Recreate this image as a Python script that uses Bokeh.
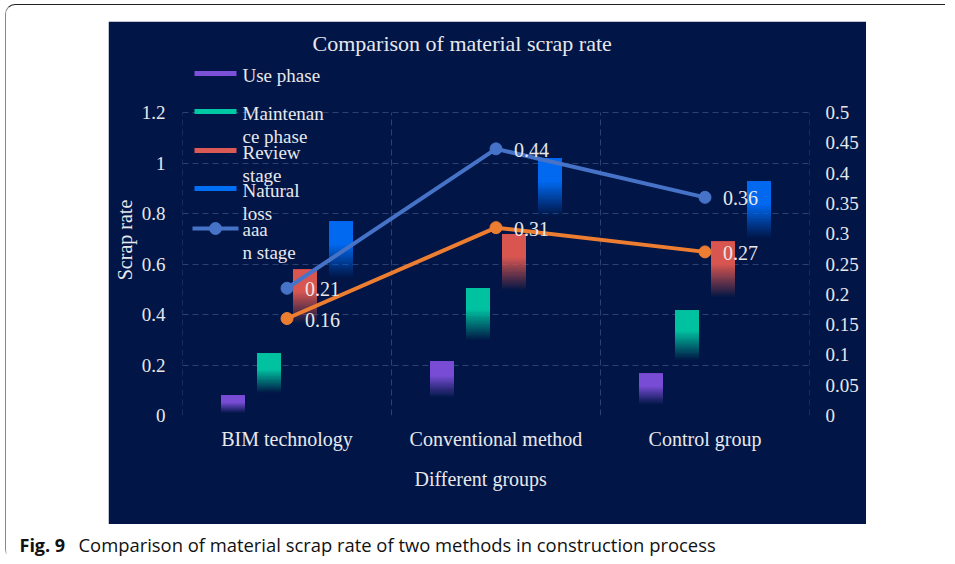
import math
from bokeh.plotting import figure
from bokeh.models import Range1d, LinearAxis, FixedTicker, ColumnDataSource, Spacer, Title
from bokeh.layouts import column, row
from bokeh.core.properties import value
from bokeh.embed import file_html
from bokeh.resources import INLINE

# ---------------- data ----------------
groups = ["BIM technology", "Conventional method", "Control group"]
bar_series = ["Use phase", "Maintenance phase", "Review stage", "Natural loss"]
use_phase = [0.08, 0.215, 0.165]
maintenance_phase = [0.245, 0.505, 0.415]
review_stage = [0.577, 0.717, 0.688]
natural_loss = [0.768, 1.018, 0.928]
line_blue = [0.21, 0.44, 0.36]      # legend "aaa n stage", right axis
line_orange = [0.16, 0.31, 0.27]    # right axis
legend_labels = [["Use phase"], ["Maintenan", "ce phase"], ["Review", "stage"],
                 ["Natural", "loss"], ["aaa", "n stage"]]
left_ticks = [0, 0.2, 0.4, 0.6, 0.8, 1, 1.2]
left_tick_labels = ["0", "0.2", "0.4", "0.6", "0.8", "1", "1.2"]
right_ticks = [0, 0.05, 0.1, 0.15, 0.2, 0.25, 0.3, 0.35, 0.4, 0.45, 0.5]
right_tick_labels = ["0", "0.05", "0.1", "0.15", "0.2", "0.25", "0.3", "0.35", "0.4", "0.45", "0.5"]
title_text = "Comparison of material scrap rate"
x_label = "Different groups"
y_label = "Scrap rate"
caption_bold = "Fig. 9"
caption_text = "Comparison of material scrap rate of two methods in construction process"

# ---------------- style ----------------
NAVY = "#011646"
TXT = "#E8E8EC"
GRID = "#2A4272"
bar_colors = ["#7D50D8", "#00C8A5", "#DC5A55", "#006EF5"]
BLUE_LINE = "#4673C8"
ORANGE = "#ED7D31"
SERIF = "Liberation Serif"

W, H = 758, 503
ML, MR, MT, MB = 74, 57, 43, 109
FW, FH = W - ML - MR, H - MT - MB          # 627 x 351
PX_PER_UNIT_Y = 303 / 1.2
Y_END = FH / PX_PER_UNIT_Y
Y2_END = Y_END * 0.5 / 1.2
X0, X1 = -0.5, 2.5
UX = (X1 - X0) / FW                          # data per px (x)
UY = 1.0 / PX_PER_UNIT_Y                     # data per px (y)

# page-pixel helpers (frame left = 183, y=0 at 416 on page)
PAGE_FL, PAGE_Y0 = 109 + ML, 22 + MT + FH
def dx(px): return X0 + (px - PAGE_FL) * UX
def dy(py): return (PAGE_Y0 - py) * UY

p = figure(width=W, height=H, x_range=Range1d(X0, X1), y_range=Range1d(0, Y_END),
           toolbar_location=None, output_backend="svg",
           min_border_left=ML, min_border_right=MR, min_border_top=MT, min_border_bottom=MB)
p.background_fill_color = NAVY
p.border_fill_color = NAVY
p.outline_line_color = NAVY
p.outline_line_width = 3

p.title = Title(text=title_text, align="left", offset=130, standoff=16,
                vertical_align="middle",
                text_font=SERIF, text_font_size="22px", text_font_style="normal",
                text_color=TXT)

# grids
p.xgrid.visible = False
p.ygrid.ticker = FixedTicker(ticks=left_ticks)
p.ygrid.grid_line_color = GRID
p.ygrid.grid_line_dash = "6 4"
p.ygrid.grid_line_width = 1

# vertical dashed separators (only up to 1.2)
sep_x = [X0 + i for i in range(len(groups) + 1)]
p.segment(x0=sep_x, y0=[0] * len(sep_x), x1=sep_x, y1=[left_ticks[-1]] * len(sep_x),
          line_color=GRID, line_dash="6 4", line_width=1)

# axes
def style_axis(ax, size="19px"):
    ax.axis_line_color = None
    ax.major_tick_line_color = None
    ax.minor_tick_line_color = None
    ax.major_tick_out = 0
    ax.major_tick_in = 0
    ax.minor_tick_out = 0
    ax.minor_tick_in = 0
    ax.major_label_text_color = TXT
    ax.major_label_text_font = SERIF
    ax.major_label_text_font_size = size
    ax.axis_label_text_color = TXT
    ax.axis_label_text_font = SERIF
    ax.axis_label_text_font_size = "20px"
    ax.axis_label_text_font_style = "normal"

p.xaxis.ticker = FixedTicker(ticks=list(range(len(groups))))
p.xaxis.major_label_overrides = {i: g for i, g in enumerate(groups)}
p.xaxis.major_label_standoff = 12
style_axis(p.xaxis[0], "20px")
# x-axis title sits left of the frame centre in the original, so it is set as a
# below-panel title with a fixed offset
p.add_layout(Title(text=x_label, align="left", offset=232, standoff=29,
                   vertical_align="middle", text_font=SERIF, text_font_size="20px",
                   text_font_style="normal", text_color=TXT), "below")

p.yaxis.ticker = FixedTicker(ticks=left_ticks)
p.yaxis.major_label_overrides = dict(zip(left_ticks, left_tick_labels))
p.yaxis.axis_label = y_label
p.yaxis.major_label_standoff = 17
p.yaxis.axis_label_standoff = 3
style_axis(p.yaxis[0])

p.extra_y_ranges = {"right": Range1d(0, Y2_END)}
ax2 = LinearAxis(y_range_name="right", ticker=FixedTicker(ticks=right_ticks),
                 major_label_overrides=dict(zip(right_ticks, right_tick_labels)),
                 major_label_standoff=16)
style_axis(ax2)
p.add_layout(ax2, "right")

# gradient bars: nested rectangles all hanging from the bar top, composited so the
# opacity falls from 1 at the top to 0 further down (no seams between slices)
series_vals = [use_phase, maintenance_phase, review_stage, natural_loss]
offsets_px = [-54, -18, 18, 54]
bar_w = 24 * UX
N = 28
def target_opacity(t):
    return max(0.0, min(1.0, (1 - t) / 0.6))
for s, vals in enumerate(series_vals):
    L, R, T, B, A = [], [], [], [], []
    for g, v in enumerate(vals):
        cx = g + offsets_px[s] * UX
        h_px = v / UY
        fade = min(h_px, 58 * (1 - math.exp(-h_px / 55)))
        O = [target_opacity((k + 0.5) / N) for k in range(N)] + [0.0]
        for k in range(N):
            bot = max(0.0, v - (k + 1) / N * fade * UY)
            rem_k = 1 - O[k]
            rem_n = 1 - O[k + 1]
            a = 1.0 if rem_n <= 0 else 1 - rem_k / rem_n
            a = max(0.0, min(1.0, a))
            L.append(cx - bar_w / 2); R.append(cx + bar_w / 2)
            T.append(v); B.append(bot); A.append(a)
    src = ColumnDataSource(dict(left=L, right=R, top=T, bottom=B, alpha=A))
    p.quad(left="left", right="right", top="top", bottom="bottom", source=src,
           fill_color=bar_colors[s], fill_alpha="alpha", line_color=None)

# lines on right axis
xs = list(range(len(groups)))
for vals, col in [(line_orange, ORANGE), (line_blue, BLUE_LINE)]:
    p.line(xs, vals, y_range_name="right", line_color=col, line_width=4)
    p.scatter(xs, vals, y_range_name="right", size=12, fill_color=col, line_color=col)
    p.text(xs, vals, text=[f"{v:.2f}" for v in vals], y_range_name="right",
           x_offset=18, y_offset=1, text_align="left", text_baseline="middle",
           text_color=TXT, text_font=value(SERIF), text_font_size="20px")

# manual legend (overlapping wrapped labels as in the original)
leg_first_y = [76, 114, 153, 191, 230]
leg_colors = bar_colors + [BLUE_LINE]
for i, lab in enumerate(legend_labels):
    gy = dy(leg_first_y[i] - 2)
    if i < 4:
        p.segment(x0=[dx(195)], y0=[gy], x1=[dx(237)], y1=[gy],
                  line_color=leg_colors[i], line_width=5)
    else:
        gy = dy(leg_first_y[i] - 1)
        p.segment(x0=[dx(193)], y0=[gy], x1=[dx(239)], y1=[gy],
                  line_color=leg_colors[i], line_width=4)
        p.scatter([dx(216)], [gy], size=12, fill_color=leg_colors[i], line_color=leg_colors[i])
    for j, t in enumerate(lab):
        p.text([dx(243)], [dy(leg_first_y[i] + 23 * j)], text=[t],
               text_align="left", text_baseline="middle", text_color=TXT,
               text_font=value(SERIF), text_font_size="19px")

# caption
cap = figure(width=939, height=35, x_range=Range1d(0, 939), y_range=Range1d(0, 35),
             toolbar_location=None, output_backend="svg",
             x_axis_type=None, y_axis_type=None, min_border=0)
cap.outline_line_color = None
cap.background_fill_color = "white"
cap.border_fill_color = "white"
cap.grid.visible = False
cap.text([13], [15], text=[caption_bold], text_baseline="middle", text_color="#111111",
         text_font=value("Open Sans"), text_font_size="18px", text_font_style="bold")
cap.text([72], [15], text=[caption_text], text_baseline="middle", text_color="#111111",
         text_font=value("Open Sans"), text_font_size="18.4px")

layout = column(Spacer(height=16), row(Spacer(width=102), p), cap,
                styles={"border-top": "1.5px solid #222", "border-left": "1px solid #888",
                        "border-radius": "10px 0 0 10px",
                        "margin-left": "5px", "margin-top": "4px"})

open("out.html", "w").write(file_html(layout, INLINE))
